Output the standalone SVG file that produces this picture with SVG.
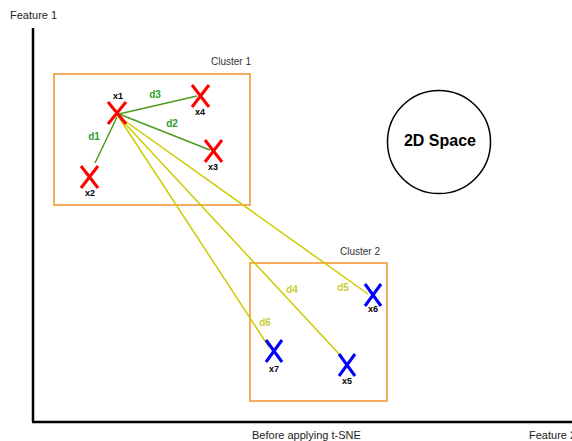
<svg xmlns="http://www.w3.org/2000/svg" width="572" height="441" viewBox="0 0 572 441">
  <style>
    text { font-family: "Liberation Sans", Arial, sans-serif; }
    .axis { stroke: #000; stroke-width: 2.5; fill: none; }
    .axis-label { font-size: 11px; fill: #222; }
    .cluster { fill: none; stroke: #f5922c; stroke-width: 1.5; }
    .cluster-label { font-size: 10px; fill: #333; text-anchor: middle; }
    .mark-red { stroke: #ff0000; stroke-width: 3; fill: none; }
    .mark-blue { stroke: #0000ff; stroke-width: 3; fill: none; }
    .pt-label { font-size: 9px; font-weight: bold; fill: #000; text-anchor: middle; }
    .near { stroke: #4e9a22; stroke-width: 1.5; fill: none; }
    .far { stroke: #cccc00; stroke-width: 1.5; fill: none; }
    .near-label { font-size: 10px; font-weight: bold; fill: #2ca02c; text-anchor: middle; }
    .far-label { font-size: 10px; font-weight: bold; fill: #cccc33; text-anchor: middle; }
  </style>

  <!-- Axes -->
  <g id="axes">
    <line class="axis" x1="33" y1="28" x2="33" y2="422"/>
    <line class="axis" x1="32" y1="422" x2="572" y2="422"/>
    <text class="axis-label" x="10" y="19">Feature 1</text>
    <text class="axis-label" x="529" y="439">Feature 2</text>
    <text class="axis-label" x="252" y="439">Before applying t-SNE</text>
  </g>

  <!-- Cluster boxes -->
  <g id="cluster1">
    <rect class="cluster" x="54" y="74" width="196" height="131"/>
    <text class="cluster-label" x="231" y="65">Cluster 1</text>
  </g>
  <g id="cluster2">
    <rect class="cluster" x="250" y="263" width="137" height="138"/>
    <text class="cluster-label" x="360" y="255">Cluster 2</text>
  </g>

  <!-- Distance connectors -->
  <g id="connectors">
    <line class="near" x1="119" y1="114" x2="197" y2="96"/>
    <line class="near" x1="119" y1="114" x2="210" y2="150"/>
    <line class="near" x1="117" y1="117" x2="95" y2="163"/>
    <line class="far" x1="118" y1="116" x2="368" y2="294"/>
    <line class="far" x1="118" y1="116" x2="340" y2="355"/>
    <line class="far" x1="118" y1="116" x2="269" y2="347"/>
    <text class="near-label" x="155" y="98">d3</text>
    <text class="near-label" x="172" y="127">d2</text>
    <text class="near-label" x="94" y="140">d1</text>
    <text class="far-label" x="292" y="293">d4</text>
    <text class="far-label" x="343" y="291">d5</text>
    <text class="far-label" x="265" y="326">d6</text>
  </g>

  <!-- Points -->
  <g id="x1">
    <path class="mark-red" d="M108 102 L126 124 M126 102 L108 124"/>
    <text class="pt-label" x="118" y="99">x1</text>
  </g>
  <g id="x2">
    <path class="mark-red" d="M81 166 L98 188 M98 166 L81 188"/>
    <text class="pt-label" x="90" y="196">x2</text>
  </g>
  <g id="x3">
    <path class="mark-red" d="M205 140 L222 162 M222 140 L205 162"/>
    <text class="pt-label" x="213" y="170">x3</text>
  </g>
  <g id="x4">
    <path class="mark-red" d="M192 85 L209 107 M209 85 L192 107"/>
    <text class="pt-label" x="200" y="115">x4</text>
  </g>
  <g id="x5">
    <path class="mark-blue" d="M339 354 L355 376 M355 354 L339 376"/>
    <text class="pt-label" x="347" y="384">x5</text>
  </g>
  <g id="x6">
    <path class="mark-blue" d="M365 284 L381 306 M381 284 L365 306"/>
    <text class="pt-label" x="373" y="312">x6</text>
  </g>
  <g id="x7">
    <path class="mark-blue" d="M266 340 L282 362 M282 340 L266 362"/>
    <text class="pt-label" x="274" y="372">x7</text>
  </g>

  <!-- Space marker -->
  <g id="space">
    <circle cx="439" cy="142" r="51.5" fill="#fff" stroke="#000" stroke-width="1.5"/>
    <text x="440" y="146" font-size="16" font-weight="bold" text-anchor="middle" fill="#000">2D Space</text>
  </g>
</svg>
